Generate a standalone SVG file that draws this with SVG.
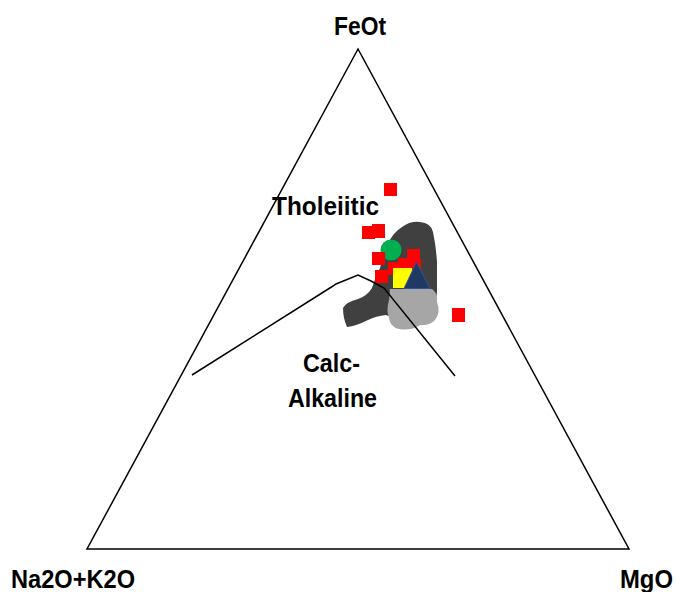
<svg xmlns="http://www.w3.org/2000/svg" width="675" height="592" viewBox="0 0 675 592">
<style>
.lbl{font-family:"Liberation Sans",Arial,sans-serif;font-weight:bold;font-size:25px;fill:#000}
.ln{fill:none;stroke:#000;stroke-width:1.5}
.sq{fill:#ff0000}
</style>
<rect width="675" height="592" fill="#fff"/>
<g id="frame">
<polygon class="ln" points="358,49 87,549 629,549"/>
</g>
<g id="fields">
<path id="dark-field" fill="#404040" d="M402,227 Q410,221 420,222 Q431,223 433,232 Q436,246 437,262 L437,292 Q436,306 430,316 L400,320 L386,315 Q376,316 368,320 Q356,326 347,327 Q343,318 343,308 Q346,302 358,299 Q367,296 372,288 Q375,278 380,268 Q384,252 388,243 Q394,232 402,227 Z"/>
<path id="light-field" fill="#a6a6a6" d="M390,289 L432,289 Q438,293 437,302 Q441,312 435,320 Q430,326 420,325 Q411,331 399,329 Q390,327 389,318 Q386,310 389,300 Z"/>
</g>
<g id="data">
<circle cx="391" cy="250" r="10.5" fill="#00b050"/>
<rect class="sq" x="384" y="183" width="13" height="13"/>
<rect class="sq" x="362" y="226" width="13" height="13"/>
<rect class="sq" x="372" y="224" width="13" height="14"/>
<rect class="sq" x="372" y="252" width="13" height="13"/>
<rect class="sq" x="407" y="249" width="13" height="13"/>
<rect class="sq" x="388" y="262" width="13" height="13"/>
<rect class="sq" x="398" y="258" width="13" height="13"/>
<rect class="sq" x="408" y="259" width="13" height="13"/>
<rect class="sq" x="375" y="270" width="13" height="13"/>
<rect class="sq" x="452" y="308" width="13" height="14"/>
<rect fill="#ffff00" x="393" y="268" width="19" height="20"/>
<polygon points="416.5,262 404,288.5 430,288.5" fill="#1f3864" stroke="#2f5597" stroke-width="1"/>
</g>
<g id="connectors">
<polyline class="ln" points="192,375 333,286 336,284 358,275 371,281 384,288 455,376"/>
</g>
<g id="labels">
<text class="lbl" x="334" y="35" textLength="52" lengthAdjust="spacingAndGlyphs">FeOt</text>
<text class="lbl" x="272" y="215" textLength="107" lengthAdjust="spacingAndGlyphs">Tholeiitic</text>
<text class="lbl" x="303" y="372" textLength="57" lengthAdjust="spacingAndGlyphs">Calc-</text>
<text class="lbl" x="288" y="407" textLength="89" lengthAdjust="spacingAndGlyphs">Alkaline</text>
<text class="lbl" x="11" y="588" textLength="124" lengthAdjust="spacingAndGlyphs">Na2O+K2O</text>
<text class="lbl" x="620" y="588" textLength="53" lengthAdjust="spacingAndGlyphs">MgO</text>
</g>
</svg>
